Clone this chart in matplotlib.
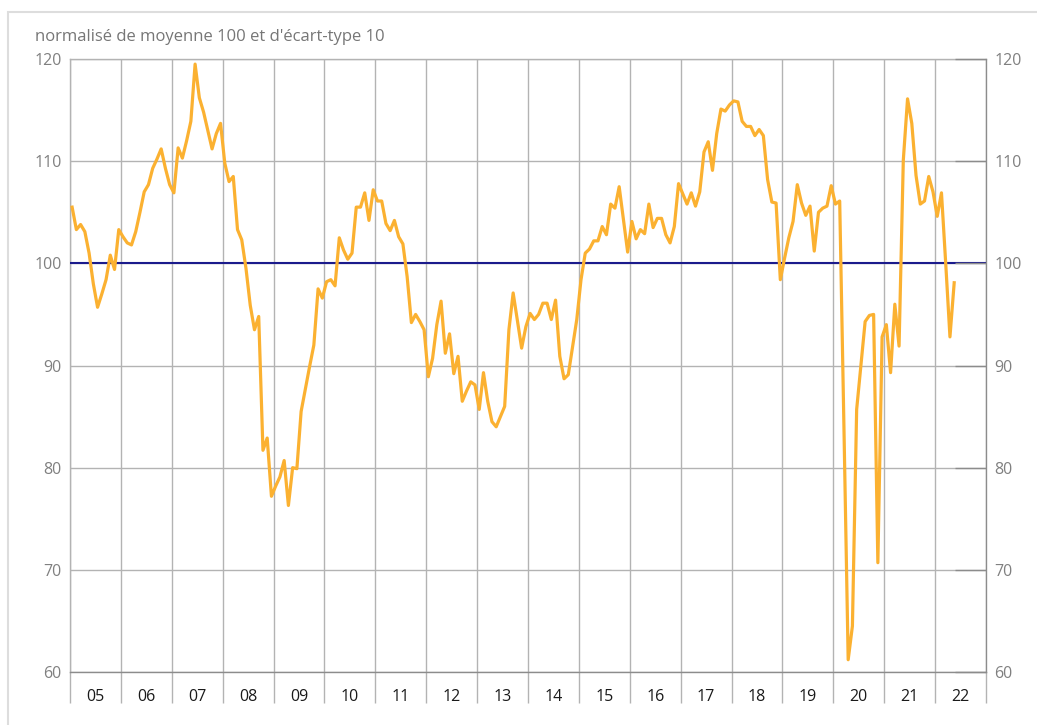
import numpy as np
import matplotlib.pyplot as plt
from matplotlib.patches import Rectangle

plt.rcParams['font.family'] = ['Open Sans', 'DejaVu Sans']

# year labels shown under the axis
years = ['05', '06', '07', '08', '09', '10', '11', '12', '13',
         '14', '15', '16', '17', '18', '19', '20', '21', '22']

# monthly indicator, jan 2005 -> may 2022
v2005 = [105.5, 103.3, 103.8, 103.1, 101.0, 98.0, 95.7, 97.0, 98.4, 100.8, 99.4, 103.3]
v2006 = [102.6, 102.0, 101.8, 103.1, 105.0, 107.0, 107.7, 109.3, 110.2, 111.2, 109.3, 107.7]
v2007 = [106.9, 111.3, 110.3, 112.0, 113.9, 119.5, 116.2, 114.8, 113.0, 111.2, 112.7, 113.7]
v2008 = [109.8, 108.0, 108.5, 103.3, 102.3, 99.5, 95.9, 93.5, 94.8, 81.7, 82.9, 77.2]
v2009 = [78.2, 79.1, 80.7, 76.3, 80.0, 79.9, 85.5, 87.7, 89.9, 92.0, 97.5, 96.6]
v2010 = [98.2, 98.4, 97.8, 102.5, 101.3, 100.4, 101.0, 105.5, 105.5, 106.9, 104.2, 107.2]
v2011 = [106.1, 106.1, 103.9, 103.2, 104.2, 102.6, 101.9, 98.7, 94.2, 95.0, 94.3, 93.5]
v2012 = [88.9, 90.7, 94.0, 96.3, 91.2, 93.1, 89.2, 90.9, 86.5, 87.5, 88.4, 88.1]
v2013 = [85.7, 89.3, 86.5, 84.5, 84.0, 85.0, 86.0, 93.5, 97.1, 94.4, 91.7, 93.8]
v2014 = [95.1, 94.5, 95.0, 96.1, 96.1, 94.5, 96.4, 90.9, 88.7, 89.1, 91.8, 94.5]
v2015 = [98.4, 101.0, 101.4, 102.2, 102.2, 103.6, 102.8, 105.8, 105.4, 107.5, 104.3, 101.1]
v2016 = [104.1, 102.4, 103.3, 102.9, 105.8, 103.5, 104.4, 104.4, 102.8, 102.0, 103.6, 107.8]
v2017 = [106.8, 105.8, 106.9, 105.6, 107.0, 110.9, 111.9, 109.1, 112.7, 115.1, 114.9, 115.5]
v2018 = [115.9, 115.8, 113.9, 113.4, 113.4, 112.5, 113.1, 112.5, 108.2, 106.0, 105.9, 98.4]
v2019 = [100.5, 102.5, 104.1, 107.7, 105.9, 104.7, 105.6, 101.2, 105.0, 105.4, 105.6, 107.6]
v2020 = [105.8, 106.1, 84.0, 61.2, 64.5, 85.7, 90.0, 94.3, 94.9, 95.0, 70.7, 92.8]
v2021 = [94.0, 89.3, 96.0, 91.9, 110.1, 116.1, 113.7, 108.6, 105.8, 106.1, 108.5, 107.0]
v2022 = [104.6, 106.9, 100.0, 92.8, 98.1]

values = np.array(v2005 + v2006 + v2007 + v2008 + v2009 + v2010 + v2011 + v2012 + v2013
                  + v2014 + v2015 + v2016 + v2017 + v2018 + v2019 + v2020 + v2021 + v2022)
months = np.arange(len(values)) + 0.5

W, H = 1037, 725
fig = plt.figure(figsize=(W / 100, H / 100), dpi=100)
ax = fig.add_axes([70 / W, 1 - 672 / H, 916 / W, 613 / H])

grid_col = '#b3b3b3'
ax.plot(months, values, color='#FBB131', lw=2.3, zorder=4)
ax.axhline(100, color='#1B1B8C', lw=1.5, zorder=3)

ax.set_xlim(0, 12 * len(years))
ax.set_ylim(60, 120)

ax.set_xticks(np.arange(0, 12 * len(years) + 1, 12))
ax.set_xticklabels([])
ax.set_xticks(np.arange(6, 12 * len(years), 12), minor=True)
ax.set_xticklabels(years, minor=True)
ax.tick_params(axis='x', which='major', direction='out', length=22.5, width=1, color=grid_col)
ax.tick_params(axis='x', which='minor', length=0, pad=12, labelsize=11.5, labelcolor='#1a1a1a')

ax.set_yticks(range(60, 121, 10))
ax.tick_params(axis='y', length=0, pad=6, labelsize=11.5, labelcolor='#808080')

ax.grid(True, which='major', color=grid_col, lw=1, zorder=1)
ax.set_axisbelow(True)

for s in ax.spines.values():
    s.set_color(grid_col)
    s.set_linewidth(1)
ax.spines['bottom'].set_color('#8c8c8c')

# right hand axis, same scale
ax2 = ax.twinx()
ax2.set_ylim(60, 120)
ax2.set_yticks(range(60, 121, 10))
ax2.tick_params(axis='y', direction='in', length=22, width=1, color='#8c8c8c',
                pad=6, labelsize=11.5, labelcolor='#808080')
for s in ax2.spines.values():
    s.set_visible(False)
ax2.spines['right'].set_visible(True)
ax2.spines['right'].set_color('#8c8c8c')

fig.text(35 / W, 1 - 37 / H, "normalisé de moyenne 100 et d'écart-type 10",
         va='center', ha='left', color='#767676', fontsize=12)

# light frame around the panel
fig.patches.append(Rectangle((7.5 / W, -0.1), 1.2, (H - 11.5) / H + 0.1,
                             transform=fig.transFigure, fill=False,
                             ec='#dddddd', lw=1.5))

fig.savefig('out.png', dpi=100)
